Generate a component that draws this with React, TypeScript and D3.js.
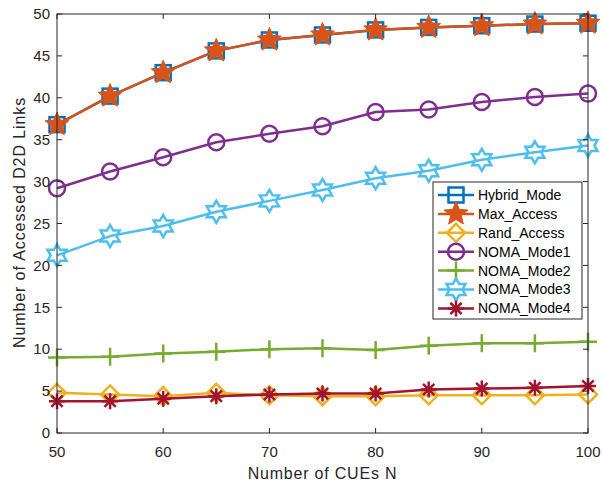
import * as d3 from 'd3';

// x positions (number of CUEs)
const cues = [50, 55, 60, 65, 70, 75, 80, 85, 90, 95, 100];

// series values
const hybridMode = [36.8, 40.2, 43.0, 45.6, 46.9, 47.5, 48.1, 48.4, 48.6, 48.8, 48.9];
const maxAccess = [36.8, 40.2, 43.0, 45.6, 46.9, 47.5, 48.1, 48.4, 48.6, 48.8, 48.9];
const randAccess = [4.8, 4.6, 4.4, 4.8, 4.5, 4.4, 4.4, 4.5, 4.5, 4.5, 4.6];
const nomaMode1 = [29.2, 31.2, 32.9, 34.7, 35.7, 36.6, 38.3, 38.6, 39.5, 40.1, 40.5];
const nomaMode2 = [9.0, 9.1, 9.5, 9.7, 10.0, 10.1, 9.9, 10.4, 10.7, 10.7, 10.9];
const nomaMode3 = [21.2, 23.5, 24.7, 26.4, 27.7, 29.0, 30.4, 31.3, 32.6, 33.5, 34.3];
const nomaMode4 = [3.8, 3.8, 4.1, 4.4, 4.6, 4.7, 4.7, 5.2, 5.3, 5.4, 5.6];

const xTicks = [50, 60, 70, 80, 90, 100];
const yTicks = [0, 5, 10, 15, 20, 25, 30, 35, 40, 45, 50];

const series = [
  { name: 'Hybrid_Mode', values: hybridMode, color: '#0072BD', marker: 'square' },
  { name: 'Max_Access', values: maxAccess, color: '#D95319', marker: 'star' },
  { name: 'Rand_Access', values: randAccess, color: '#EDB120', marker: 'diamond' },
  { name: 'NOMA_Mode1', values: nomaMode1, color: '#7E2F8E', marker: 'circle' },
  { name: 'NOMA_Mode2', values: nomaMode2, color: '#77AC30', marker: 'plus' },
  { name: 'NOMA_Mode3', values: nomaMode3, color: '#4DBEEE', marker: 'hexagram' },
  { name: 'NOMA_Mode4', values: nomaMode4, color: '#A2142F', marker: 'asterisk' },
];

const FONT = 'Liberation Sans, Arial, Helvetica, sans-serif';

function starPath(r: number, points: number, inner: number) {
  const pts: [number, number][] = [];
  for (let i = 0; i < points * 2; i++) {
    const rr = i % 2 === 0 ? r : r * inner;
    const a = -Math.PI / 2 + (i * Math.PI) / points;
    pts.push([rr * Math.cos(a), rr * Math.sin(a)]);
  }
  return 'M' + pts.map(p => p.join(',')).join('L') + 'Z';
}

function Marker({ type, x, y, color }: { type: string; x: number; y: number; color: string }) {
  const sw = 2.5;
  const t = `translate(${x},${y})`;
  switch (type) {
    case 'square':
      return <rect x={x - 7.5} y={y - 7.5} width={15} height={15} fill="none" stroke={color} strokeWidth={sw} />;
    case 'star':
      return <path transform={t} d={starPath(12.5, 5, 0.45)} fill={color} stroke={color} strokeWidth={1} />;
    case 'diamond':
      return <path transform={t} d="M0,-9L9,0L0,9L-9,0Z" fill="none" stroke={color} strokeWidth={sw} />;
    case 'circle':
      return <circle cx={x} cy={y} r={8} fill="none" stroke={color} strokeWidth={sw} />;
    case 'plus':
      return <path transform={t} d="M-9,0H9M0,-9V9" stroke={color} strokeWidth={sw} />;
    case 'hexagram':
      return <path transform={t} d={starPath(11, 6, 0.58)} fill="none" stroke={color} strokeWidth={sw} />;
    case 'asterisk': {
      const r = 8;
      const d = r * Math.SQRT1_2;
      return (
        <path
          transform={t}
          d={`M-${r},0H${r}M0,-${r}V${r}M-${d},-${d}L${d},${d}M-${d},${d}L${d},-${d}`}
          stroke={color}
          strokeWidth={sw}
        />
      );
    }
    default:
      return null;
  }
}

export default function App() {
  const width = 603;
  const height = 485;
  const margin = { top: 14, right: 15, bottom: 52, left: 57 };
  const innerW = width - margin.left - margin.right;
  const innerH = height - margin.top - margin.bottom;

  const x = d3.scaleLinear().domain([50, 100]).range([0, innerW]);
  const y = d3.scaleLinear().domain([0, 50]).range([innerH, 0]);

  const line = d3
    .line<number>()
    .x((_, i) => x(cues[i]))
    .y(d => y(d));

  const tickLen = 5;
  const axisColor = '#262626';

  // legend layout
  const lg = { x: 433 - margin.left, y: 182 - margin.top, w: 149, h: 137, row: 18.9 };

  return (
    <div style={{ position: 'absolute', left: 0, top: 0 }}>
      <svg width={width} height={height} style={{ display: 'block', background: '#fff' }}>
        <g transform={`translate(${margin.left},${margin.top})`}>
          {/* series lines */}
          {series.map(s => (
            <g key={s.name}>
              <path d={line(s.values) || ''} fill="none" stroke={s.color} strokeWidth={2.5} strokeLinejoin="round" />
              {s.values.map((v, i) => (
                <Marker key={i} type={s.marker} x={x(cues[i])} y={y(v)} color={s.color} />
              ))}
            </g>
          ))}

          {/* box + ticks */}
          <rect x={0} y={0} width={innerW} height={innerH} fill="none" stroke={axisColor} strokeWidth={1} />
          {xTicks.map(t => (
            <g key={t}>
              <line x1={x(t)} x2={x(t)} y1={innerH} y2={innerH - tickLen} stroke={axisColor} />
              <line x1={x(t)} x2={x(t)} y1={0} y2={tickLen} stroke={axisColor} />
              <text
                x={x(t)}
                y={innerH + 24}
                textAnchor="middle"
                fontFamily={FONT}
                fontSize={15}
                fill={axisColor}
              >
                {t}
              </text>
            </g>
          ))}
          {yTicks.map(t => (
            <g key={t}>
              <line x1={0} x2={tickLen} y1={y(t)} y2={y(t)} stroke={axisColor} />
              <line x1={innerW} x2={innerW - tickLen} y1={y(t)} y2={y(t)} stroke={axisColor} />
              <text
                x={-7}
                y={y(t)}
                dy="0.35em"
                textAnchor="end"
                fontFamily={FONT}
                fontSize={15}
                fill={axisColor}
              >
                {t}
              </text>
            </g>
          ))}

          {/* axis labels */}
          <text
            x={innerW / 2}
            y={innerH + 46}
            textAnchor="middle"
            fontFamily={FONT}
            fontSize={16}
            letterSpacing={0.8}
            fill={axisColor}
          >
            Number of CUEs N
          </text>
          <text
            transform={`translate(${-32},${innerH / 2 - 1}) rotate(-90)`}
            textAnchor="middle"
            fontFamily={FONT}
            fontSize={16}
            letterSpacing={0.9}
            fill={axisColor}
          >
            Number of Accessed D2D Links
          </text>

          {/* legend */}
          <g transform={`translate(${lg.x},${lg.y})`}>
            <rect x={0} y={0} width={lg.w} height={lg.h} fill="#fff" stroke={axisColor} strokeWidth={1} />
            {series.map((s, i) => {
              const cy = 13 + i * lg.row;
              return (
                <g key={s.name}>
                  <line x1={5} x2={41} y1={cy} y2={cy} stroke={s.color} strokeWidth={2.5} />
                  <Marker type={s.marker} x={23} y={cy} color={s.color} />
                  <text x={45} y={cy} dy="0.35em" fontFamily={FONT} fontSize={14} fill="#000">
                    {s.name}
                  </text>
                </g>
              );
            })}
          </g>
        </g>
      </svg>
    </div>
  );
}
